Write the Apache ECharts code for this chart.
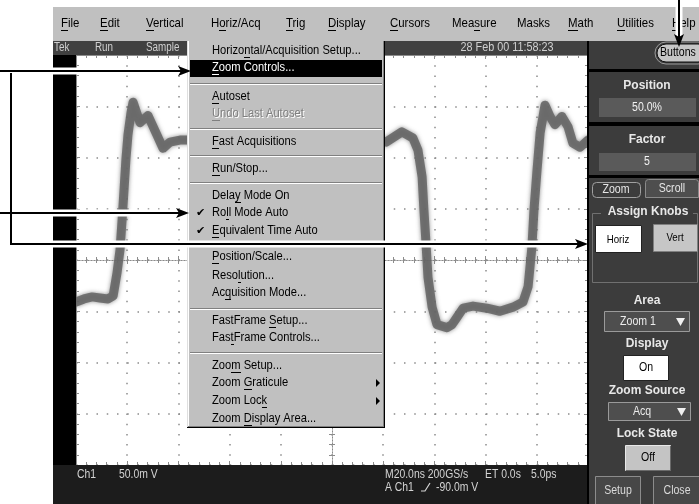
<!DOCTYPE html>
<html>
<head>
<meta charset="utf-8">
<script src="https://cdn.jsdelivr.net/npm/echarts@6/dist/echarts.min.js"></script>
<style>
html,body{margin:0;padding:0;background:#fff;}
#scope{width:699px;height:504px;}
</style>
</head>
<body>
<div id="scope"></div>
<script>
// Ch1 acquisition: time in ns (20 ns/div, 10 divisions), amplitude in mV (50 mV/div, 8 divisions)
const timeNs = [0, 3.1, 6.3, 9.4, 12.5, 14.5, 16.0, 17.2, 18.0, 18.75, 19.5, 20.3, 21.5, 22.3,
  25.0, 28.1, 31.6, 34.0, 36.7, 40.6, 43.4, 68, 95.3, 121.1, 127.3, 131.6, 133.6, 135.2, 135.9,
  136.7, 137.5, 139.1, 141.0, 144.9, 146.9, 148.8, 151.2, 155.1, 160.5, 165.6, 170.7, 174.6,
  176.6, 178.1, 178.9, 180.1, 181.3, 183.2, 185.2, 187.1, 189.8, 192.2, 194.1, 196.9, 200];
const ch1mV = [-41, -38, -36, -37, -38, -35, -13, 10, 39, 68, 98, 122, 144, 154,
  134, 141, 122, 109, 115, 117, 117, 119, 117, 115, 125, 119, 107, 81, 49,
  17, -17, -46, -63, -66, -63, -56, -47, -45, -47, -50, -46, -41,
  -26, 13, 49, 88, 124, 151, 140, 132, 140, 130, 114, 110, 117];

// axis ranges (divisions)
const timeRange = [0, 200, 20];
const ampRange = [-200, 200, 50];

// menu bar
const menuBarLabels = ['File', 'Edit', 'Vertical', 'Horiz/Acq', 'Trig', 'Display', 'Cursors', 'Measure', 'Masks', 'Math', 'Utilities', 'Help'];
const menuBarKeys = [0, 0, 0, 1, 0, 0, 0, 3, -1, 0, 0, 0];

// Horiz/Acq drop-down
const menuLabels = ['Horizontal/Acquisition Setup...', 'Zoom Controls...', 'Autoset', 'Undo Last Autoset',
  'Fast Acquisitions', 'Run/Stop...', 'Delay Mode On', 'Roll Mode Auto', 'Equivalent Time Auto',
  'Position/Scale...', 'Resolution...', 'Acquisition Mode...', 'FastFrame Setup...', 'FastFrame Controls...',
  'Zoom Setup...', 'Zoom Graticule', 'Zoom Lock', 'Zoom Display Area...'];
const menuKeys = [6, 0, 0, 0, 0, 0, 4, 2, 0, 0, 4, 2, 10, 3, 3, 5, 8, 5];
const menuChecked = ['Roll Mode Auto', 'Equivalent Time Auto'];
const menuDisabled = ['Undo Last Autoset'];
const menuSubmenus = ['Zoom Graticule', 'Zoom Lock'];
const menuSelected = 'Zoom Controls...';

// status readouts
const statusTop = ['Tek', 'Run', 'Sample'];
const statusDate = '28 Feb 00 11:58:23';
const readoutLine1 = ['Ch1', '50.0m V', 'M20.0ns 200GS/s', 'ET 0.0s', '5.0ps'];
const readoutLine2 = ['A Ch1', '-90.0m V'];

// zoom control panel
const panelTitles = ['Position', 'Factor', 'Assign Knobs', 'Area', 'Display', 'Zoom Source', 'Lock State'];
const panelValues = ['50.0%', '5', 'Zoom 1', 'On', 'Acq', 'Off'];
const panelButtons = ['Buttons', 'Zoom', 'Scroll', 'Horiz', 'Vert', 'Setup', 'Close'];

// ---------- layout helpers ----------
const UI = "'Liberation Sans', Arial, sans-serif";
const g = [];
const measureCtx = document.createElement('canvas').getContext('2d');

function rect(x, y, w, h, fill, stroke, r, z) {
  g.push({ type: 'rect', silent: true, z: z || 50,
    shape: { x: x, y: y, width: w, height: h, r: r || 0 },
    style: { fill: fill || 'none', stroke: stroke || null, lineWidth: 1 } });
}
function seg(x1, y1, x2, y2, stroke, w, z) {
  g.push({ type: 'line', silent: true, z: z || 50,
    shape: { x1: x1, y1: y1, x2: x2, y2: y2 }, style: { stroke: stroke, lineWidth: w || 1 } });
}
function poly(points, fill, z) {
  g.push({ type: 'polygon', silent: true, z: z || 52, shape: { points: points }, style: { fill: fill } });
}
// text anchored at (x, y); sx narrows the glyphs around the anchor
function text(x, y, s, font, fill, align, z, sx) {
  g.push({ type: 'text', silent: true, z: z || 53, x: x, y: y, scaleX: sx || 1,
    style: { text: s, font: font, fill: fill, align: align || 'left', verticalAlign: 'middle',
      textAlign: align || 'left', textVerticalAlign: 'middle' } });
}
function underline(x, y, s, idx, font, color, sx) {
  if (idx < 0) return;
  sx = sx || 1;
  measureCtx.font = font;
  const x0 = x + measureCtx.measureText(s.slice(0, idx)).width * sx;
  const w = measureCtx.measureText(s[idx]).width * sx;
  seg(Math.round(x0), y + 0.5, Math.round(x0 + w), y + 0.5, color, 1, 64);
}

// ---------- window chrome ----------
// menu bar
rect(53, 7, 646, 34, '#c0c0c0', null, 0, 40);
const menuBarX = [61, 100, 146, 211, 286, 328, 390, 452, 517, 568, 617, 672];
const fBar = '13px ' + UI;
const sxBar = 0.88;
menuBarLabels.forEach((s, i) => {
  text(menuBarX[i], 23, s, fBar, '#000', 'left', 53, sxBar);
  underline(menuBarX[i], 30, s, menuBarKeys[i], fBar, '#000', sxBar);
});

// status line above graticule
rect(53, 41, 535, 14, '#414141', null, 0, 40);
const fStat = '12px ' + UI;
[54, 95, 146].forEach((x, i) => text(x, 48, statusTop[i], fStat, '#d0d0d0', 'left', 53, 0.82));
text(507, 48, statusDate, fStat, '#d0d0d0', 'center', 53, 0.9);

// left black strip and bottom readout band
rect(53, 55, 23, 410, '#000', null, 0, 40);
rect(53, 465, 535, 39, '#1c1c1c', null, 0, 40);
const fRead = '13px ' + UI;
const sxRead = 0.8;
[77, 119, 385, 485, 531].forEach((x, i) => text(x, 474, readoutLine1[i], fRead, '#d4d4d4', 'left', 53, sxRead));
text(385, 487, readoutLine2[0], fRead, '#d4d4d4', 'left', 53, sxRead);
g.push({ type: 'polyline', silent: true, z: 53, shape: { points: [[421, 491], [425, 491], [430, 483]] },
  style: { stroke: '#d4d4d4', lineWidth: 1.2, fill: 'none' } });
text(436, 487, readoutLine2[1], fRead, '#d4d4d4', 'left', 53, sxRead);

// ---------- right control panel ----------
rect(588, 41, 111, 463, '#3c3c3c', null, 0, 40);
rect(587, 41, 2, 463, '#000', null, 0, 41);
rect(589, 69, 110, 3, '#000', null, 0, 41);
rect(589, 122, 110, 4, '#000', null, 0, 41);
rect(589, 175, 110, 3, '#000', null, 0, 41);

const fTitle = 'bold 12px ' + UI;
const fVal = '12px ' + UI;
const sxVal = 0.88;
// Buttons pill
rect(655, 42, 54, 22, null, '#9a9a9a', 11, 50);
rect(657, 44, 50, 18, '#c6c6c6', '#111', 9, 51);
text(660, 53, panelButtons[0], fVal, '#000', 'left', 53, sxVal);

// Position / Factor
text(647, 86, panelTitles[0], fTitle, '#e8e8e8', 'center');
rect(599, 98, 97, 19, '#5a5a5a');
text(647, 108, panelValues[0], fVal, '#f2f2f2', 'center', 53, sxVal);
text(647, 140, panelTitles[1], fTitle, '#e8e8e8', 'center');
rect(599, 153, 97, 18, '#5a5a5a');
text(647, 162, panelValues[1], fVal, '#f2f2f2', 'center', 53, sxVal);

// tabs
rect(592.5, 182.5, 48, 15, null, '#a0a0a0', 4);
text(616, 190, panelButtons[1], fVal, '#e6e6e6', 'center', 53, sxVal);
rect(645.5, 179.5, 53, 18, '#4e4e4e', '#8a8a8a', [3, 3, 0, 0]);
text(672, 189, panelButtons[2], fVal, '#e6e6e6', 'center', 53, sxVal);

// Assign Knobs group
rect(592.5, 213.5, 105, 69, null, '#707070');
rect(601, 205, 92, 14, '#3c3c3c', null, 0, 51);
text(648, 212, panelTitles[2], fTitle, '#e8e8e8', 'center');
rect(595.5, 225.5, 46, 27, '#fff', '#222');
text(618, 240, panelButtons[3], '11px ' + UI, '#000', 'center', 53, sxVal);
rect(653.5, 224.5, 44, 27, '#c6c6c6', '#808080');
text(675, 238, panelButtons[4], '11px ' + UI, '#000', 'center', 53, sxVal);

// Area / Display / Zoom Source / Lock State
text(647, 301, panelTitles[3], fTitle, '#e8e8e8', 'center');
rect(604.5, 311.5, 85, 20, '#4e4e4e', '#9a9a9a');
text(638, 322, panelValues[2], fVal, '#ececec', 'center', 53, sxVal);
poly([[676, 318], [685, 318], [680.5, 326]], '#f0f0f0');
text(647, 344, panelTitles[4], fTitle, '#e8e8e8', 'center');
rect(623.5, 355.5, 45, 25, '#fff', '#222');
text(646, 368, panelValues[3], fVal, '#000', 'center', 53, sxVal);
text(647, 391, panelTitles[5], fTitle, '#e8e8e8', 'center');
rect(608.5, 402.5, 82, 18, '#4e4e4e', '#9a9a9a');
text(642, 412, panelValues[4], fVal, '#ececec', 'center', 53, sxVal);
poly([[677, 408], [686, 408], [681.5, 416]], '#f0f0f0');
text(647, 434, panelTitles[6], fTitle, '#e8e8e8', 'center');
rect(625.5, 445.5, 45, 25, '#c4c4c4', '#e8e8e8');
seg(626, 470.5, 671, 470.5, '#6a6a6a', 1, 51);
seg(670.5, 446, 670.5, 471, '#6a6a6a', 1, 51);
text(648, 458, panelValues[5], fVal, '#000', 'center', 53, sxVal);
rect(595.5, 476.5, 45, 30, '#474747', '#8c8c8c');
text(618, 491, panelButtons[5], fVal, '#dadada', 'center', 53, sxVal);
rect(653.5, 476.5, 48, 30, '#474747', '#8c8c8c');
text(677, 491, panelButtons[6], fVal, '#dadada', 'center', 53, sxVal);

// ---------- Horiz/Acq drop-down menu ----------
const MX = 187, MY = 41, MW = 198, MH = 387;
rect(MX, MY, MW, MH, '#c0c0c0', null, 0, 60);
seg(MX + 0.5, MY, MX + 0.5, MY + MH, '#dfdfdf', 1, 61);
seg(MX + 1.5, MY, MX + 1.5, MY + MH - 1, '#ffffff', 1, 61);
seg(MX + MW - 1.5, MY, MX + MW - 1.5, MY + MH - 1, '#808080', 1, 61);
seg(MX + MW - 0.5, MY, MX + MW - 0.5, MY + MH, '#000', 1, 61);
seg(MX + 1, MY + MH - 1.5, MX + MW - 1, MY + MH - 1.5, '#808080', 1, 61);
seg(MX, MY + MH - 0.5, MX + MW, MY + MH - 0.5, '#000', 1, 61);

const menuRowY = [51, 68, 97, 114, 142, 169, 196, 213, 231, 257, 276, 293, 321, 338, 366, 383, 401, 419];
const menuSeparators = [83, 128, 155, 182, 244, 308, 352];
menuSeparators.forEach(y => {
  seg(MX + 3, y + 0.5, MX + MW - 3, y + 0.5, '#808080', 1, 61);
  seg(MX + 3, y + 1.5, MX + MW - 3, y + 1.5, '#ffffff', 1, 61);
});
const fMenu = '12px ' + UI;
const sxMenu = 0.93;
const TX = 212;
menuLabels.forEach((s, i) => {
  const y = menuRowY[i];
  let color = '#000';
  if (s === menuSelected) {
    rect(MX + 3, y - 8, MW - 6, 17, '#000', null, 0, 62);
    color = '#fff';
  }
  if (menuDisabled.indexOf(s) >= 0) {
    text(TX + 1, y + 1, s, fMenu, '#fff', 'left', 63, sxMenu);
    color = '#808080';
  }
  text(TX, y, s, fMenu, color, 'left', 64, sxMenu);
  underline(TX, y + 6, s, menuKeys[i], fMenu, color, sxMenu);
  if (menuChecked.indexOf(s) >= 0) text(196, y, '\u2714', '11px DejaVu Sans', '#000', 'left', 64);
  if (menuSubmenus.indexOf(s) >= 0) poly([[376, y - 4], [380, y], [376, y + 4]], '#000', 64);
});

// ---------- callout arrows ----------
function callout(points, tip, dir) {
  g.push({ type: 'polyline', silent: true, z: 80, shape: { points: points },
    style: { stroke: '#fff', lineWidth: 7, fill: 'none', lineJoin: 'miter' } });
  g.push({ type: 'polyline', silent: true, z: 81, shape: { points: points },
    style: { stroke: '#000', lineWidth: 2, fill: 'none', lineJoin: 'miter' } });
  const [tx, ty] = tip;
  const head = dir === 'right'
    ? [[tx, ty], [tx - 13, ty - 5], [tx - 10, ty], [tx - 13, ty + 5]]
    : [[tx, ty], [tx - 5, ty - 13], [tx, ty - 10], [tx + 5, ty - 13]];
  poly(head, '#000', 82);
}
callout([[0, 71], [182, 71]], [191, 71], 'right');
callout([[0, 213], [180, 213]], [189, 213], 'right');
callout([[11, 73], [11, 244], [578, 244]], [588, 244], 'right');
callout([[679, 0], [679, 38]], [679, 47], 'down');

// ---------- chart ----------
function timeAxis(position, offset, opts) {
  return Object.assign({
    type: 'value', position: position, offset: offset,
    min: timeRange[0], max: timeRange[1], interval: timeRange[2],
    axisLabel: { show: false },
    axisLine: { show: true, onZero: false, lineStyle: { color: '#8c8c8c', width: 1 } },
    axisTick: { show: true, inside: true, length: 4, lineStyle: { color: '#8c8c8c' } },
    minorTick: { show: true, splitNumber: 5, length: 3, lineStyle: { color: '#8c8c8c' } },
    splitLine: { show: false }
  }, opts || {});
}
function ampAxis(position, offset, opts) {
  return Object.assign({
    type: 'value', position: position, offset: offset,
    min: ampRange[0], max: ampRange[1], interval: ampRange[2],
    axisLabel: { show: false },
    axisLine: { show: true, onZero: false, lineStyle: { color: '#8c8c8c', width: 1 } },
    axisTick: { show: true, inside: true, length: 4, lineStyle: { color: '#8c8c8c' } },
    minorTick: { show: true, splitNumber: 5, length: 3, lineStyle: { color: '#8c8c8c' } },
    splitLine: { show: false }
  }, opts || {});
}
const centerLine = { show: true, onZero: false, lineStyle: { color: '#8a8a8a', width: 1, type: [1, 2] } };
const tracePoints = timeNs.map((t, i) => [t, ch1mV[i]]);

const chart = echarts.init(document.getElementById('scope'), null, { renderer: 'canvas' });
chart.setOption({
  animation: false,
  backgroundColor: '#ffffff',
  grid: { left: 76, top: 55, width: 512, height: 410, containLabel: false },
  xAxis: [
    timeAxis('bottom', 0, { splitLine: { show: true, lineStyle: { color: '#8c8c8c', width: 1.5, type: [1.5, 8.74] } } }),
    timeAxis('top', 0),
    timeAxis('bottom', -205, { axisLine: centerLine }),
    timeAxis('top', -205, { axisLine: centerLine })
  ],
  yAxis: [
    ampAxis('left', 0, { splitLine: { show: true, lineStyle: { color: '#8c8c8c', width: 1.5, type: [1.5, 8.75] } } }),
    ampAxis('right', 0, { axisLine: { show: false, onZero: false } }),
    ampAxis('left', -256, { axisLine: centerLine }),
    ampAxis('right', -256, { axisLine: centerLine })
  ],
  graphic: { elements: g },
  series: [
    {
      // acquired record drawn as a soft, noisy-looking band
      name: 'Ch1', type: 'line', xAxisIndex: 0, yAxisIndex: 0,
      data: tracePoints, symbol: 'none', silent: true, z: 4,
      lineStyle: { color: 'rgba(100,100,100,0.85)', width: 9, join: 'round', cap: 'round',
        shadowBlur: 4, shadowColor: 'rgba(110,110,110,0.9)' }
    }
  ]
});
</script>
</body>
</html>
